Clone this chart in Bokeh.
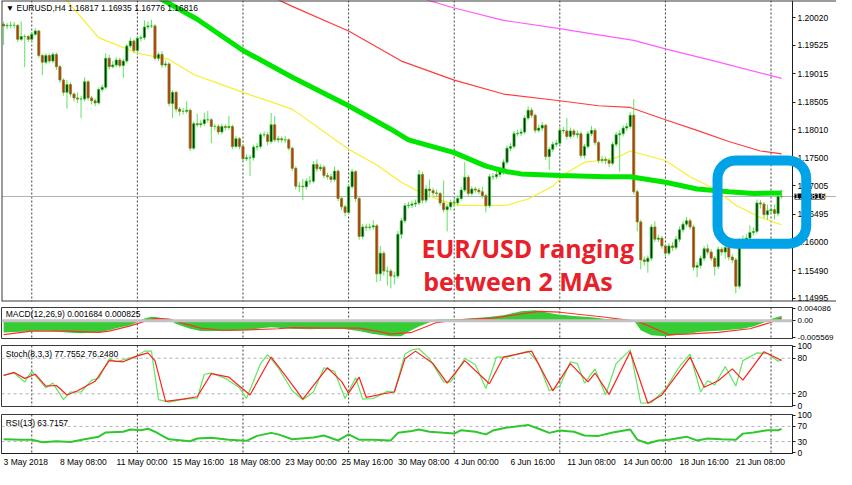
from bokeh.plotting import figure
from bokeh.layouts import column
from bokeh.models import (Range1d, FixedTicker, PrintfTickFormatter, Span, Label,
                          BoxAnnotation)
from bokeh.embed import file_html
from bokeh.resources import INLINE

# ---------------- data ----------------
first_open = 1.1990
closes = [
    1.1987, 1.1988, 1.1988, 1.1988, 1.1963, 1.1968, 1.1968, 1.1963, 1.1972, 1.1978,
    1.1934, 1.1922, 1.1934, 1.1924, 1.1936, 1.1914, 1.1890, 1.1868, 1.1882, 1.1865,
    1.1858, 1.1856, 1.1856, 1.1887, 1.1858, 1.1853, 1.1849, 1.1873, 1.1877, 1.1929,
    1.1914, 1.1917, 1.1926, 1.1916, 1.1924, 1.1951, 1.1960, 1.1943, 1.1965, 1.1966,
    1.1985, 1.1987, 1.1987, 1.1929, 1.1936, 1.1917, 1.1919, 1.1848, 1.1868, 1.1838,
    1.1834, 1.1834, 1.1836, 1.1768, 1.1812, 1.1810, 1.1812, 1.1819, 1.1819, 1.1807,
    1.1807, 1.1797, 1.1807, 1.1805, 1.1807, 1.1771, 1.1785, 1.1771, 1.1749, 1.1751,
    1.1751, 1.1770, 1.1771, 1.1792, 1.1792, 1.1780, 1.1810, 1.1783, 1.1785, 1.1783,
    1.1783, 1.1768, 1.1732, 1.1700, 1.1700, 1.1699, 1.1709, 1.1709, 1.1739, 1.1731,
    1.1734, 1.1719, 1.1717, 1.1712, 1.1727, 1.1678, 1.1663, 1.1653, 1.1699, 1.1726,
    1.1678, 1.1610, 1.1627, 1.1626, 1.1627, 1.1629, 1.1543, 1.1580, 1.1548, 1.1548,
    1.1539, 1.1539, 1.1614, 1.1638, 1.1665, 1.1666, 1.1668, 1.1670, 1.1721, 1.1675,
    1.1695, 1.1692, 1.1688, 1.1687, 1.1670, 1.1658, 1.1663, 1.1671, 1.1670, 1.1678,
    1.1693, 1.1716, 1.1687, 1.1695, 1.1693, 1.1690, 1.1683, 1.1665, 1.1717, 1.1717,
    1.1721, 1.1726, 1.1743, 1.1768, 1.1771, 1.1794, 1.1795, 1.1797, 1.1822, 1.1836,
    1.1827, 1.1800, 1.1804, 1.1809, 1.1753, 1.1766, 1.1775, 1.1777, 1.1800, 1.1799,
    1.1789, 1.1799, 1.1792, 1.1794, 1.1755, 1.1771, 1.1794, 1.1800, 1.1778, 1.1746,
    1.1748, 1.1746, 1.1741, 1.1775, 1.1792, 1.1794, 1.1804, 1.1807, 1.1827, 1.1690,
    1.1636, 1.1568, 1.1565, 1.1571, 1.1627, 1.1605, 1.1607, 1.1593, 1.1580, 1.1593,
    1.1590, 1.1605, 1.1622, 1.1632, 1.1638, 1.1627, 1.1555, 1.1558, 1.1571, 1.1588,
    1.1582, 1.1571, 1.1556, 1.1587, 1.1582, 1.1590, 1.1573, 1.1568, 1.1521, 1.1602,
    1.1605, 1.1607, 1.1617, 1.1619, 1.1670, 1.1668, 1.1649, 1.1656, 1.1658, 1.1651,
    1.16817, 1.16816,
]
highs = [
    1.1995, 1.1992, 1.1995, 1.1994, 1.1990, 1.1995, 1.1972, 1.1971, 1.1976, 1.1983,
    1.1980, 1.1937, 1.1938, 1.1938, 1.1940, 1.1939, 1.1917, 1.1893, 1.1890, 1.1886,
    1.1868, 1.1868, 1.1862, 1.1895, 1.1890, 1.1862, 1.1857, 1.1877, 1.1882, 1.1938,
    1.1935, 1.1924, 1.1931, 1.1930, 1.1928, 1.1955, 1.1966, 1.1963, 1.1969, 1.1970,
    1.1997, 1.1995, 1.1998, 1.1990, 1.1940, 1.1942, 1.1925, 1.1922, 1.1872, 1.1871,
    1.1842, 1.1840, 1.1852, 1.1839, 1.1816, 1.1830, 1.1818, 1.1832, 1.1835, 1.1822,
    1.1812, 1.1811, 1.1812, 1.1811, 1.1826, 1.1810, 1.1790, 1.1788, 1.1774, 1.1757,
    1.1756, 1.1774, 1.1777, 1.1796, 1.1798, 1.1797, 1.1831, 1.1826, 1.1790, 1.1789,
    1.1790, 1.1786, 1.1771, 1.1736, 1.1707, 1.1713, 1.1714, 1.1718, 1.1745, 1.1748,
    1.1739, 1.1738, 1.1724, 1.1722, 1.1735, 1.1730, 1.1682, 1.1667, 1.1703, 1.1731,
    1.1729, 1.1681, 1.1632, 1.1633, 1.1633, 1.1639, 1.1632, 1.1593, 1.1584, 1.1556,
    1.1552, 1.1547, 1.1620, 1.1643, 1.1670, 1.1672, 1.1674, 1.1676, 1.1729, 1.1726,
    1.1702, 1.1712, 1.1697, 1.1694, 1.1690, 1.1710, 1.1668, 1.1676, 1.1677, 1.1684,
    1.1698, 1.1743, 1.1720, 1.1700, 1.1699, 1.1697, 1.1699, 1.1687, 1.1722, 1.1723,
    1.1727, 1.1731, 1.1748, 1.1773, 1.1777, 1.1799, 1.1801, 1.1803, 1.1827, 1.1843,
    1.1841, 1.1830, 1.1810, 1.1815, 1.1812, 1.1770, 1.1780, 1.1783, 1.1806, 1.1806,
    1.1822, 1.1805, 1.1803, 1.1800, 1.1798, 1.1776, 1.1799, 1.1808, 1.1804, 1.1781,
    1.1754, 1.1753, 1.1750, 1.1780, 1.1797, 1.1800, 1.1809, 1.1813, 1.1833, 1.1856,
    1.1694, 1.1640, 1.1574, 1.1576, 1.1632, 1.1637, 1.1613, 1.1611, 1.1597, 1.1598,
    1.1600, 1.1611, 1.1628, 1.1637, 1.1645, 1.1642, 1.1631, 1.1564, 1.1576, 1.1593,
    1.1596, 1.1587, 1.1575, 1.1592, 1.1591, 1.1596, 1.1594, 1.1578, 1.1572, 1.1607,
    1.1612, 1.1614, 1.1630, 1.1626, 1.1676, 1.1675, 1.1672, 1.1667, 1.1664, 1.1667,
    1.1690, 1.16935,
]
lows = [
    1.1953, 1.1981, 1.1983, 1.1982, 1.1958, 1.1960, 1.1913, 1.1958, 1.1958, 1.1969,
    1.1930, 1.1899, 1.1918, 1.1920, 1.1920, 1.1908, 1.1885, 1.1862, 1.1839, 1.1860,
    1.1852, 1.1849, 1.1822, 1.1852, 1.1853, 1.1846, 1.1843, 1.1846, 1.1869, 1.1874,
    1.1909, 1.1911, 1.1913, 1.1912, 1.1894, 1.1920, 1.1947, 1.1938, 1.1940, 1.1959,
    1.1962, 1.1980, 1.1983, 1.1925, 1.1924, 1.1912, 1.1913, 1.1843, 1.1822, 1.1832,
    1.1826, 1.1828, 1.1830, 1.1763, 1.1765, 1.1806, 1.1805, 1.1808, 1.1814, 1.1777,
    1.1800, 1.1792, 1.1793, 1.1800, 1.1801, 1.1766, 1.1768, 1.1766, 1.1744, 1.1745,
    1.1718, 1.1746, 1.1764, 1.1767, 1.1787, 1.1773, 1.1776, 1.1779, 1.1778, 1.1778,
    1.1777, 1.1764, 1.1727, 1.1694, 1.1690, 1.1675, 1.1694, 1.1703, 1.1705, 1.1726,
    1.1727, 1.1714, 1.1712, 1.1706, 1.1708, 1.1673, 1.1657, 1.1646, 1.1650, 1.1695,
    1.1672, 1.1604, 1.1605, 1.1620, 1.1621, 1.1622, 1.1528, 1.1530, 1.1540, 1.1522,
    1.1517, 1.1524, 1.1535, 1.1606, 1.1634, 1.1660, 1.1661, 1.1663, 1.1666, 1.1669,
    1.1670, 1.1680, 1.1683, 1.1681, 1.1665, 1.1653, 1.1619, 1.1657, 1.1664, 1.1665,
    1.1674, 1.1689, 1.1682, 1.1683, 1.1688, 1.1685, 1.1678, 1.1653, 1.1661, 1.1711,
    1.1713, 1.1716, 1.1721, 1.1739, 1.1763, 1.1767, 1.1789, 1.1790, 1.1793, 1.1818,
    1.1822, 1.1795, 1.1796, 1.1799, 1.1747, 1.1729, 1.1761, 1.1770, 1.1773, 1.1794,
    1.1784, 1.1785, 1.1787, 1.1786, 1.1750, 1.1750, 1.1767, 1.1790, 1.1773, 1.1741,
    1.1741, 1.1740, 1.1734, 1.1737, 1.1770, 1.1726, 1.1789, 1.1799, 1.1803, 1.1685,
    1.1619, 1.1551, 1.1558, 1.1545, 1.1566, 1.1600, 1.1600, 1.1588, 1.1574, 1.1576,
    1.1584, 1.1586, 1.1600, 1.1617, 1.1627, 1.1622, 1.1549, 1.1537, 1.1553, 1.1566,
    1.1577, 1.1566, 1.1540, 1.1551, 1.1576, 1.1570, 1.1567, 1.1562, 1.1508, 1.1516,
    1.1597, 1.1600, 1.1602, 1.1612, 1.1615, 1.1660, 1.1643, 1.1640, 1.1650, 1.1640,
    1.1646, 1.16776,
]

# moving averages (sampled along the drawn lines)
ma_yellow_idx = [13, 18, 27, 38, 47, 54, 68, 82, 98, 106, 113, 118, 124, 129, 137, 143, 149,
                 156, 160, 165, 170, 174, 178, 188, 195, 202, 208, 215, 221]
ma_yellow_val = [1.2051, 1.2032, 1.1966, 1.1938, 1.1927, 1.1900, 1.1868, 1.1838, 1.1766,
                 1.1738, 1.1707, 1.1690, 1.1675, 1.1666, 1.1665, 1.1666, 1.1677, 1.1700,
                 1.1724, 1.1743, 1.1746, 1.1751, 1.1763, 1.1746, 1.1717, 1.1695, 1.1666,
                 1.1644, 1.1631]
ma_green_idx = [38, 45, 55, 68, 82, 98, 110, 115, 128, 137, 143, 147, 158, 171, 178, 188,
                197, 206, 213, 221]
ma_green_val = [1.2065, 1.2034, 1.1999, 1.1943, 1.1895, 1.1844, 1.1802, 1.1783, 1.1760,
                1.1736, 1.1726, 1.1722, 1.1719, 1.1717, 1.1717, 1.1707, 1.1695, 1.1690,
                1.1687, 1.1688]
ma_red_idx = [68, 78, 82, 98, 113, 128, 142, 158, 169, 178, 188, 197, 206, 215, 221]
ma_red_val = [1.2060, 1.2034, 1.2022, 1.1978, 1.1924, 1.1890, 1.1865, 1.1853, 1.1844,
              1.1841, 1.1819, 1.1800, 1.1780, 1.1763, 1.1758]
ma_magenta_idx = [110, 120, 128, 142, 158, 165, 179, 188, 202, 218, 221]
ma_magenta_val = [1.2051, 1.2034, 1.2019, 1.1997, 1.1982, 1.1975, 1.1961, 1.1946, 1.1924,
                  1.1898, 1.1893]

# MACD(12,26,9)
macd_idx = [0, 5, 8, 13, 18, 22, 27, 30, 32, 36, 38, 40, 42, 44, 47, 49, 53, 56, 64, 69,
            73, 76, 82, 87, 91, 96, 101, 105, 110, 113, 115, 118, 121, 123, 130, 137, 142,
            147, 151, 157, 162, 167, 171, 176, 179, 181, 184, 188, 194, 198, 204, 210,
            213, 216, 218, 221]
macd_val = [-0.0040, -0.0037, -0.0035, -0.0034, -0.0040, -0.0042, -0.0040, -0.0032, -0.0025,
            -0.0015, -0.0005, 0.0008, 0.0014, 0.0011, 0.0004, -0.0011, -0.0027, -0.0035,
            -0.0035, -0.0032, -0.0025, -0.0022, -0.0027, -0.0029, -0.0027, -0.0027, -0.0035,
            -0.0045, -0.0052, -0.0052, -0.0037, -0.0019, -0.0005, 0.0004, 0.0006, 0.0012,
            0.0019, 0.0032, 0.0036, 0.0022, 0.0016, 0.0012, 0.0006, 0.0004, 0.0002, -0.0032,
            -0.0049, -0.0052, -0.0045, -0.0037, -0.0033, -0.0027, -0.0019, -0.0006, 0.0006,
            0.001684]
signal_idx = [0, 8, 18, 27, 30, 36, 40, 43, 47, 51, 56, 62, 69, 78, 82, 91, 101, 106, 110,
              113, 116, 123, 128, 139, 152, 158, 171, 176, 180, 189, 194, 203, 212, 217, 221]
signal_val = [-0.0047, -0.0035, -0.0035, -0.0039, -0.0035, -0.0017, -0.0002, 0.0008, 0.0006,
              -0.0009, -0.0025, -0.0032, -0.0031, -0.0027, -0.0023, -0.0025, -0.0025, -0.0035,
              -0.0045, -0.0042, -0.0039, -0.0006, 0.0002, 0.0009, 0.0032, 0.0029, 0.0012,
              0.0004, -0.0001, -0.0047, -0.0045, -0.0039, -0.0027, -0.0009, 0.000825]

# Stochastic(8,3,3)
stoch_k_idx = [0, 3, 6, 8, 12, 14, 17, 19, 22, 25, 27, 30, 32, 35, 38, 40, 42, 44, 47, 51,
               55, 57, 59, 63, 67, 69, 73, 75, 78, 82, 85, 88, 91, 94, 97, 100, 102, 105,
               109, 111, 114, 116, 118, 121, 125, 127, 131, 134, 137, 140, 143, 149, 152,
               155, 158, 161, 163, 165, 168, 171, 174, 178, 181, 184, 188, 192, 195, 198,
               200, 202, 205, 208, 210, 214, 217, 220, 221]
stoch_k_val = [51, 55, 40, 58, 30, 38, 10, 23, 23, 43, 46, 79, 74, 79, 84, 92, 92, 10, 6, 11,
               12, 53, 55, 46, 30, 12, 71, 86, 64, 25, 10, 23, 64, 58, 12, 47, 11, 12, 24, 23,
               87, 94, 96, 79, 40, 40, 80, 69, 29, 82, 82, 92, 71, 25, 33, 74, 71, 38, 62, 18,
               71, 94, 4, 5, 28, 66, 87, 23, 42, 35, 66, 33, 76, 89, 88, 75, 77.7552]
stoch_d_idx = [0, 3, 6, 9, 12, 15, 18, 21, 26, 30, 34, 38, 41, 43, 46, 51, 55, 59, 64, 70,
               76, 80, 85, 92, 96, 98, 101, 103, 108, 111, 114, 117, 122, 126, 131, 138, 142,
               150, 156, 161, 166, 168, 172, 178, 183, 187, 195, 199, 203, 207, 210, 216, 221]
stoch_d_val = [51, 56, 46, 53, 33, 34, 18, 25, 41, 76, 74, 84, 89, 76, 7, 11, 15, 54, 48, 18,
               82, 51, 11, 64, 41, 21, 48, 14, 20, 23, 79, 92, 71, 38, 76, 37, 82, 92, 25, 71,
               40, 55, 19, 91, 4, 18, 82, 31, 42, 62, 43, 91, 76.248]

# RSI(13)
rsi_idx = [0, 5, 8, 11, 15, 19, 23, 27, 29, 34, 36, 39, 41, 43, 45, 47, 53, 55, 59, 64, 69,
           72, 76, 78, 82, 88, 91, 95, 98, 101, 105, 110, 112, 116, 118, 121, 125, 128, 130,
           134, 137, 139, 143, 149, 152, 155, 158, 162, 165, 169, 173, 178, 180, 183, 186,
           189, 194, 197, 200, 204, 208, 210, 213, 217, 220, 221]
rsi_val = [36, 35, 35, 28, 31, 29, 36, 43, 54, 56, 62, 60, 64, 56, 46, 36, 31, 38, 40, 35, 32,
           45, 53, 49, 36, 41, 46, 33, 49, 35, 35, 33, 53, 58, 62, 56, 53, 51, 60, 56, 49, 59,
           67, 74, 64, 53, 59, 56, 46, 45, 54, 62, 35, 25, 33, 35, 43, 33, 38, 36, 35, 51, 54,
           60, 60, 63.7157]

# axes
price_ticks = [1.14995, 1.15490, 1.16000, 1.16495, 1.17005, 1.17500, 1.18010, 1.18505,
               1.19015, 1.19525, 1.20020]
last_price = 1.16816
time_tick_idx = [0, 16, 32, 48, 64, 80, 96, 112, 128, 144, 160, 176, 192, 208]
time_tick_labels = ["3 May 2018", "8 May 08:00", "11 May 00:00", "15 May 16:00",
                    "18 May 08:00", "23 May 00:00", "25 May 16:00", "30 May 08:00",
                    "4 Jun 00:00", "6 Jun 16:00", "11 Jun 08:00", "14 Jun 00:00",
                    "18 Jun 16:00", "21 Jun 08:00"]
week_sep_idx = [8, 38, 68, 98, 128, 158, 188, 218]

# ---------------- drawing ----------------
n = len(closes)
idx = list(range(n))
opens = [first_open] + closes[:-1]   # each H4 bar opens where the previous closed
bull = [i for i in idx if closes[i] >= opens[i]]
bear = [i for i in idx if closes[i] < opens[i]]

FONT = "Liberation Sans"
AXF = "8.5px"
X0, X1 = -0.6, 224.1          # visible bar range (price-axis line sits at X1)
FW = 791                       # frame width of the indicator panes
PX = FW / (X1 - X0)            # pixels per bar
RB = 44                        # width of the right price-scale strip
XM1 = X1 + RB / PX             # main pane frame also covers the price-scale strip


def style_yaxis(ax, ticks, size=AXF):
    ax.ticker = FixedTicker(ticks=ticks)
    ax.axis_line_color = "#1e1e1e"
    ax.major_tick_line_color = "#1e1e1e"
    ax.major_tick_out = 3
    ax.major_tick_in = 0
    ax.minor_tick_line_color = None
    ax.major_label_text_font = FONT
    ax.major_label_text_font_size = size
    ax.major_label_text_color = "#000000"
    ax.major_label_standoff = 2


def add_separators(p):
    for s in week_sep_idx:
        p.add_layout(Span(location=s, dimension="height", line_color="#3c3c3c",
                          line_dash="2 2", line_width=1, level="underlay"))


def make_pane(fh, y_range, top, bottom, ticks, last=False, size=AXF):
    p = figure(frame_width=FW, frame_height=fh, x_range=Range1d(X0, X1), y_range=y_range,
               output_backend="svg", toolbar_location=None, tools="",
               y_axis_location="right", x_axis_location="below" if last else None,
               min_border_left=1, min_border_right=RB, min_border_top=top,
               min_border_bottom=bottom)
    p.grid.visible = False
    p.outline_line_color = "#3a3a3a"
    p.outline_line_width = 1
    p.background_fill_color = "white"
    p.border_fill_color = "white"
    style_yaxis(p.yaxis[0], ticks, size)
    add_separators(p)
    return p


def title(p, x, y, text):
    p.add_layout(Label(x=x, y=y, text=text, text_font=FONT, text_font_size="8.5px",
                       text_color="#000000", text_baseline="top", text_align="left"))


# --- main price pane (price scale drawn at the right edge of the bars) ---
YB, YT = 1.14935, 1.20325
pm = figure(frame_width=FW + RB, frame_height=301, x_range=Range1d(X0, XM1),
            y_range=Range1d(YB, YT), output_backend="svg", toolbar_location=None,
            tools="", y_axis_location="right", x_axis_location=None,
            min_border_left=1, min_border_right=0, min_border_top=0, min_border_bottom=3)
pm.grid.visible = False
pm.outline_line_color = None
pm.background_fill_color = "white"
pm.border_fill_color = "white"
style_yaxis(pm.yaxis[0], price_ticks)
pm.yaxis[0].formatter = PrintfTickFormatter(format="%.5f")
pm.yaxis[0].fixed_location = X1
add_separators(pm)
for loc, dim in ((X0, "height"), (YT, "width"), (YB, "width")):
    pm.add_layout(Span(location=loc, dimension=dim, line_color="#3a3a3a", line_width=2))
pm.add_layout(Span(location=last_price, dimension="width", line_color="#a9b0b8",
                   line_width=1, level="underlay"))
pm.line(ma_magenta_idx, ma_magenta_val, line_color="#ff5cff", line_width=1.2)
pm.line(ma_red_idx, ma_red_val, line_color="#ff3c3c", line_width=1.2)
pm.line(ma_yellow_idx, ma_yellow_val, line_color="#f7ef2a", line_width=1.2)
pm.segment(x0=idx, y0=lows, x1=idx, y1=highs, line_color="#5fe35f", line_width=1)
pm.vbar(x=bull, width=0.62, top=[closes[i] for i in bull], bottom=[opens[i] for i in bull],
        fill_color="#0c220c", line_color="#25c425", line_width=0.8)
pm.vbar(x=bear, width=0.62, top=[opens[i] for i in bear], bottom=[closes[i] for i in bear],
        fill_color="#c42a16", line_color="#7e8b1c", line_width=0.8)
pm.line(ma_green_idx, ma_green_val, line_color="#00e600", line_width=5)
title(pm, 0.6, 1.2028, "\u25bc EURUSD,H4  1.16817 1.16935 1.16776 1.16816")
pm.add_layout(Label(x=118.7, y=1.15901, text="EUR/USD ranging", text_font="Open Sans",
                    text_font_style="bold", text_font_size="25px", text_color="#e8202a",
                    text_baseline="alphabetic"))
pm.add_layout(Label(x=119.2, y=1.15308, text="between 2 MAs", text_font="Open Sans",
                    text_font_style="bold", text_font_size="25px", text_color="#e8202a",
                    text_baseline="alphabetic"))
pm.add_layout(Label(x=X1, y=last_price, text="1.16816", text_font=FONT,
                    text_font_size="8.5px", text_color="white", text_baseline="middle",
                    x_offset=2, background_fill_color="black"))
pm.add_layout(BoxAnnotation(left=202.8, right=228.0, top=1.1746, bottom=1.1597,
                            fill_alpha=0, line_color="#00a3e8", line_alpha=1.0,
                            line_width=10, border_radius=18, level="overlay"))

# --- MACD pane ---
pmacd = make_pane(31, Range1d(-0.0060, 0.0045), 3, 3, [-0.005569, 0, 0.004086], size="8px")
pmacd.yaxis[0].major_label_overrides = {0.004086: "0.004086", 0: "0.00",
                                        -0.005569: "-0.005569"}
pmacd.varea(x=macd_idx, y1=0, y2=macd_val, fill_color="#35cc35")
pmacd.add_layout(Span(location=0, dimension="width", line_color="#c3c3c3", line_width=3))
pmacd.line(signal_idx, signal_val, line_color="#ff3030", line_width=1.2)
title(pmacd, 0.6, 0.0040, "MACD(12,26,9) 0.001684 0.000825")

# --- Stochastic pane ---
pst = make_pane(61, Range1d(-1.5, 101.5), 4, 4, [0, 20, 80, 100])
for lv in (20, 80):
    pst.add_layout(Span(location=lv, dimension="width", line_color="#b5b5b5",
                        line_dash="3 3", line_width=1, level="underlay"))
pst.line(stoch_k_idx, stoch_k_val, line_color="#5de85d", line_width=1.2)
pst.line(stoch_d_idx, stoch_d_val, line_color="#ff2020", line_width=1.2)
title(pst, 0.6, 95, "Stoch(8,3,3) 77.7552 76.2480")

# --- RSI pane ---
prsi = make_pane(39, Range1d(-1.5, 101.5), 4, 16, [0, 30, 70, 100], last=True)
for lv in (30, 70):
    prsi.add_layout(Span(location=lv, dimension="width", line_color="#b5b5b5",
                         line_dash="3 3", line_width=1, level="underlay"))
prsi.line(rsi_idx, rsi_val, line_color="#2ec82e", line_width=2)
title(prsi, 0.6, 92, "RSI(13) 63.7157")

# time labels start at their bar (as in the terminal): centre each label past its bar
CW = {" ": 0.278, ":": 0.278, "M": 0.833, "J": 0.5, "y": 0.5}
def half_width_bars(text):
    return 0.5 * sum(CW.get(ch, 0.556) for ch in text) * 8.5 / PX

label_pos = [t + half_width_bars(s) for t, s in zip(time_tick_idx, time_tick_labels)]
xa = prsi.xaxis[0]
xa.ticker = FixedTicker(ticks=label_pos)
xa.major_label_overrides = dict(zip(label_pos, time_tick_labels))
xa.major_label_text_font = FONT
xa.major_label_text_font_size = AXF
xa.major_label_text_color = "#000000"
xa.major_label_standoff = 3
xa.axis_line_color = "#1e1e1e"
xa.major_tick_line_color = None
xa.major_tick_out = 0
xa.major_tick_in = 0
xa.minor_tick_line_color = None

layout = column(pm, pmacd, pst, prsi, spacing=0)
open("out.html", "w").write(file_html(layout, INLINE))
